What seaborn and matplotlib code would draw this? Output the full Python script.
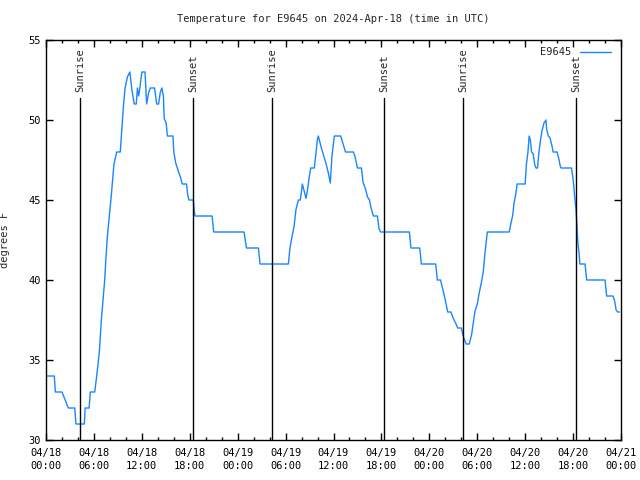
import matplotlib
matplotlib.use("Agg")
import matplotlib.pyplot as plt
import seaborn as sns
import pandas as pd

# hours since 2024-04-18 00:00 UTC
hours = [0.0, 1.04, 1.17, 2.0, 2.4, 2.8, 3.6, 3.75, 4.8, 4.9, 5.4, 5.55, 6.1, 6.35,
         6.68, 6.93, 7.18, 7.35, 7.52, 7.68, 7.93, 8.18, 8.5, 8.85, 9.3, 9.5, 9.7, 9.9,
         10.2, 10.5, 10.75, 11.05, 11.3, 11.45, 11.6, 11.75, 12.0, 12.4, 12.6, 12.85,
         13.06, 13.6, 13.86, 14.1, 14.3, 14.5, 14.7, 14.8, 15.05, 15.2, 15.9, 16.0,
         16.25, 16.57, 16.85, 17.07, 17.6, 17.75, 17.9, 18.45, 18.55, 18.65,
         20.8, 21.0, 24.8, 25.1, 26.6, 26.8, 30.35,
         30.55, 30.8, 31.05, 31.3, 31.6, 31.85, 32.1, 32.3, 32.56, 32.8, 32.95, 33.15,
         33.6, 33.8, 33.97, 34.1, 34.4, 34.7, 35.05, 35.35, 35.6, 35.8, 36.1, 36.9,
         37.2, 37.5, 38.5, 38.7, 39.0, 39.5, 39.7, 40.0, 40.25, 40.5, 40.7, 41.0,
         41.5, 41.7, 41.9,
         45.5, 45.7, 46.8, 47.0, 48.8, 49.0, 49.4, 49.7, 50.0, 50.3, 50.7, 51.0, 51.3,
         51.55, 52.0, 52.2, 52.3, 52.6, 53.0, 53.3, 53.7, 54.0, 54.25, 54.5, 54.75,
         54.95, 55.1, 55.26, 58.0, 58.2, 58.45, 58.6, 58.8, 59.0, 60.0, 60.15, 60.35,
         60.5, 60.65, 60.8, 61.0, 61.2, 61.36, 61.55, 61.7, 61.95, 62.1, 62.35, 62.6,
         62.7, 62.9, 63.1, 63.35, 63.5, 64.0, 64.2, 64.4, 64.5, 65.8, 65.95, 66.1,
         66.2, 66.37, 66.5, 66.6, 66.75, 66.85, 67.5, 67.7, 70.0, 70.2, 71.0, 71.2,
         71.4, 71.6, 71.8]
temps = [34, 34, 33, 33, 32.5, 32, 32, 31, 31, 32, 32, 33, 33, 34,
         35.5, 37.5, 39, 40, 41.5, 42.7, 44, 45.3, 47.2, 48, 48, 49.5, 50.9, 52,
         52.7, 53, 51.9, 51, 51, 52, 51.5, 52, 53, 53, 51, 51.7,
         52, 52, 51, 51, 51.7, 52, 51.5, 50.1, 49.8, 49, 49, 48,
         47.3, 46.8, 46.4, 46, 46, 45.3, 45, 45, 44.4, 44,
         44, 43, 43, 42, 42, 41, 41,
         42, 42.7, 43.3, 44.4, 45, 45, 46, 45.6, 45.1, 45.8, 46.4, 47,
         47, 47.9, 48.75, 49, 48.4, 47.9, 47.3, 46.7, 46.06, 47.7, 49, 49,
         48.5, 48, 48, 47.7, 47, 47, 46.1, 45.7, 45.2, 45, 44.5, 44,
         44, 43.2, 43,
         43, 42, 42, 41, 41, 40, 40, 39.4, 38.75, 38, 38, 37.6, 37.3,
         37, 37, 36.6, 36.4, 36, 36, 36.6, 38, 38.5, 39.2, 39.8, 40.5,
         41.6, 42.3, 43, 43, 43.5, 44.06, 44.8, 45.3, 46, 46, 47.2, 48,
         49, 48.75, 48, 47.9, 47.2, 47, 47, 47.9, 48.85, 49.3, 49.8, 50,
         49.4, 49, 48.9, 48.4, 48, 48, 47.6, 47.1, 47, 47, 46.5, 45.8,
         45.2, 44.4, 43.3, 42.3, 41.7, 41, 41, 40, 40, 39, 39, 38.7,
         38.1, 38, 38]

sunrise_hours = [4.3, 28.33, 52.26]
sunset_hours = [18.45, 42.37, 66.4]

xtick_hours = [0, 6, 12, 18, 24, 30, 36, 42, 48, 54, 60, 66, 72]
xtick_labels = ["04/18\n00:00", "04/18\n06:00", "04/18\n12:00", "04/18\n18:00",
                "04/19\n00:00", "04/19\n06:00", "04/19\n12:00", "04/19\n18:00",
                "04/20\n00:00", "04/20\n06:00", "04/20\n12:00", "04/20\n18:00",
                "04/21\n00:00"]
yticks = [30, 35, 40, 45, 50, 55]

sns.set_style("ticks")
plt.rcParams['font.family'] = ['DejaVu Sans Mono']
FS = 7.5

fig = plt.figure(figsize=(6.4, 4.8), dpi=100)
ax = fig.add_axes([46 / 640, 40 / 480, 575 / 640, 400 / 480])

df = pd.DataFrame({"hour": hours, "temp": temps})
sns.lineplot(data=df, x="hour", y="temp", ax=ax, color="#1a85ff",
             linewidth=1.0, label="E9645")

for h in sunrise_hours:
    ax.plot([h, h], [30, 51.4], color="black", lw=1)
    ax.text(h, 51.75, "Sunrise", rotation=90, ha="center", va="bottom", fontsize=FS)
for h in sunset_hours:
    ax.plot([h, h], [30, 51.4], color="black", lw=1)
    ax.text(h, 51.75, "Sunset", rotation=90, ha="center", va="bottom", fontsize=FS)

ax.set_xlim(0, 72)
ax.set_ylim(30, 55)
ax.set_xticks(xtick_hours)
ax.set_xticklabels(xtick_labels, linespacing=1.35)
ax.set_xticks(list(range(0, 73, 2)), minor=True)
ax.set_yticks(yticks)
ax.set_yticklabels([str(v) for v in yticks])
ax.tick_params(which="both", direction="in", top=True, right=True,
               labelsize=FS, color="black", labelcolor="black")
ax.tick_params(which="major", length=5, width=1)
ax.tick_params(axis="x", which="major", pad=6)
ax.tick_params(axis="y", which="major", pad=4)
ax.tick_params(which="minor", length=2.5, width=1)
for s in ax.spines.values():
    s.set_color("black")
    s.set_linewidth(1)

ax.set_xlabel("")
ax.set_ylabel("degrees F", fontsize=FS)
ax.yaxis.set_label_coords(-(46 - 10) / 575, 0.5)

fig.text(333.5 / 640, 1 - 19 / 480, "Temperature for E9645 on 2024-Apr-18 (time in UTC)",
         ha="center", va="center", fontsize=FS)

leg = ax.legend(loc="upper right", frameon=False, markerfirst=False, fontsize=FS,
                handlelength=3.0, borderaxespad=0.3, bbox_to_anchor=(0.995, 1.0))

fig.savefig("out.png", dpi=100)
